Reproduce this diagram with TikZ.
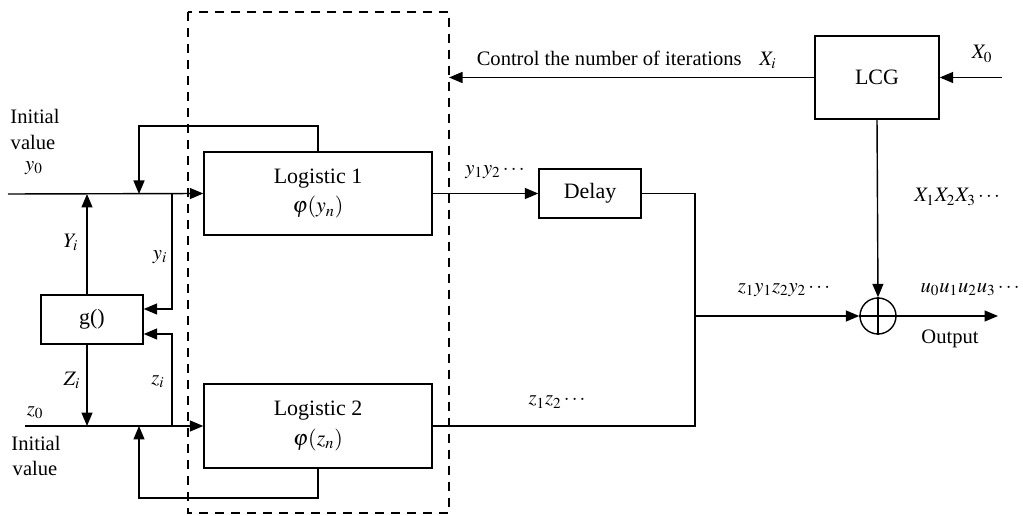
\documentclass[tikz,border=0pt]{standalone}
\usepackage{mathptmx}
\usepackage[no-math]{fontspec}
\setmainfont{Liberation Serif}
\usetikzlibrary{arrows.meta}

\begin{document}
\begin{tikzpicture}[x=0.02cm,y=-0.02cm,
block/.style = {draw,line width=0.8pt,align=center,inner sep=0pt,
        font=\fontsize{12.5}{17}\selectfont},
wire/.style = {line width=0.8pt},
sig/.style = {line width=0.8pt,-{Triangle[length=2.7mm,width=2.2mm]}},
lbl/.style = {inner sep=0pt,font=\fontsize{11.7}{14}\selectfont}]

        \useasboundingbox (0,0) rectangle (1023,516);

        \draw[line width=0.8pt,dash pattern=on 1.9mm off 1.3mm] (188,12) rectangle (449,513);

        \node[block,minimum width=4.56cm,minimum height=1.66cm] (Log_1) at (318,193.5) {Logistic 1\\$\varphi(y_n)$};
        \node[block,minimum width=4.56cm,minimum height=1.68cm] (Log_2) at (318,426) {Logistic 2\\$\varphi(z_n)$};
        \node[block,minimum width=2.04cm,minimum height=0.98cm] (Delay) at (590,193.5) {Delay};
        \node[block,minimum width=2.48cm,minimum height=1.66cm] (LCG) at (877,77.5) {LCG};
        \node[block,minimum width=2.04cm,minimum height=0.98cm] (G_Box) at (92,319.5) {g()};
        \node[draw,circle,line width=0.8pt,minimum size=0.72cm,inner sep=0pt] (Xor) at (878,316) {};
        \draw[wire] (Xor.north) -- (Xor.south) (Xor.west) -- (Xor.east);

        % left side
        \coordinate (Y_In) at (8,194);
        \coordinate (Z_In) at (25,426);
        \draw[sig] (Y_In) -- (Log_1.west);
        \draw[sig] (Z_In) -- (Log_2.west);
        \coordinate (Yi_Top) at (87,194);
        \coordinate (Zi_Bot) at (87,426);
        \draw[sig] (G_Box.north -| Yi_Top) -- (Yi_Top);
        \draw[sig] (G_Box.south -| Zi_Bot) -- (Zi_Bot);
        \coordinate (FB_1) at (139,126);
        \coordinate (FB_2) at (139,498);
        \draw[sig] (Log_1.north) |- (FB_1) -- (FB_1 |- Y_In);
        \draw[sig] (Log_2.south) |- (FB_2) -- (FB_2 |- Z_In);
        \coordinate (Tap_Y) at (172,194);
        \coordinate (Tap_Z) at (172,426);
        \draw[sig] (Tap_Y) |- ([yshift=0.21cm]G_Box.east);
        \draw[sig] (Tap_Z) |- ([yshift=-0.29cm]G_Box.east);

        % right side
        \draw[sig] (Log_1.east) -- (Delay.west);
        \coordinate (Merge) at (695,316);
        \draw[wire] (Delay.east) -| (Merge);
        \draw[wire] (Log_2.east) -| (Merge);
        \draw[sig] (Merge) -- (Xor.west);
        \draw[sig] (LCG.south) -- (Xor.north);
        \coordinate (X0_In) at (1002,77.5);
        \draw[sig] (X0_In) -- (LCG.east);
        \coordinate (Ctrl_End) at (449,77.5);
        \draw[sig] (LCG.west) -- (Ctrl_End);
        \coordinate (Out) at (998,316);
        \draw[sig] (Xor.east) -- (Out);

        \node[lbl] (Init_Y) at (35,116) {Initial};
        \node[lbl] (Val_Y) at (33,142) {value};
        \node[lbl] (Y0) at (34,168) {$y_0$};
        \node[lbl] (Z0) at (35,413) {$z_0$};
        \node[lbl] (Init_Z) at (36,443) {Initial};
        \node[lbl] (Val_Z) at (35,468) {value};
        \node[lbl] (Lab_Yi) at (71,242) {$Y_i$};
        \node[lbl] (Lab_yi) at (160,257) {$y_i$};
        \node[lbl] (Lab_Zi) at (72,380) {$Z_i$};
        \node[lbl] (Lab_zi) at (158,382) {$z_i$};
        \node[lbl] (Lab_Y12) at (495,172) {$y_1y_2\cdots$};
        \node[lbl] (Lab_Z12) at (557,402) {$z_1z_2\cdots$};
        \node[lbl] (Lab_ZY) at (784,290) {$z_1y_1z_2y_2\cdots$};
        \node[lbl] (Lab_U) at (970,290) {$u_0u_1u_2u_3\cdots$};
        \node[lbl] (Lab_Out) at (950,339) {Output};
        \node[lbl] (Lab_X123) at (957,197) {$X_1X_2X_3\cdots$};
        \node[lbl] (Lab_X0) at (982,54) {$X_0$};
        \node[lbl,anchor=base east] (Lab_Ctrl) at (742,66) {Control the number of iterations};
        \node[lbl] (Lab_Xi) at (768,60) {$X_i$};

    \end{tikzpicture}
\end{document}
